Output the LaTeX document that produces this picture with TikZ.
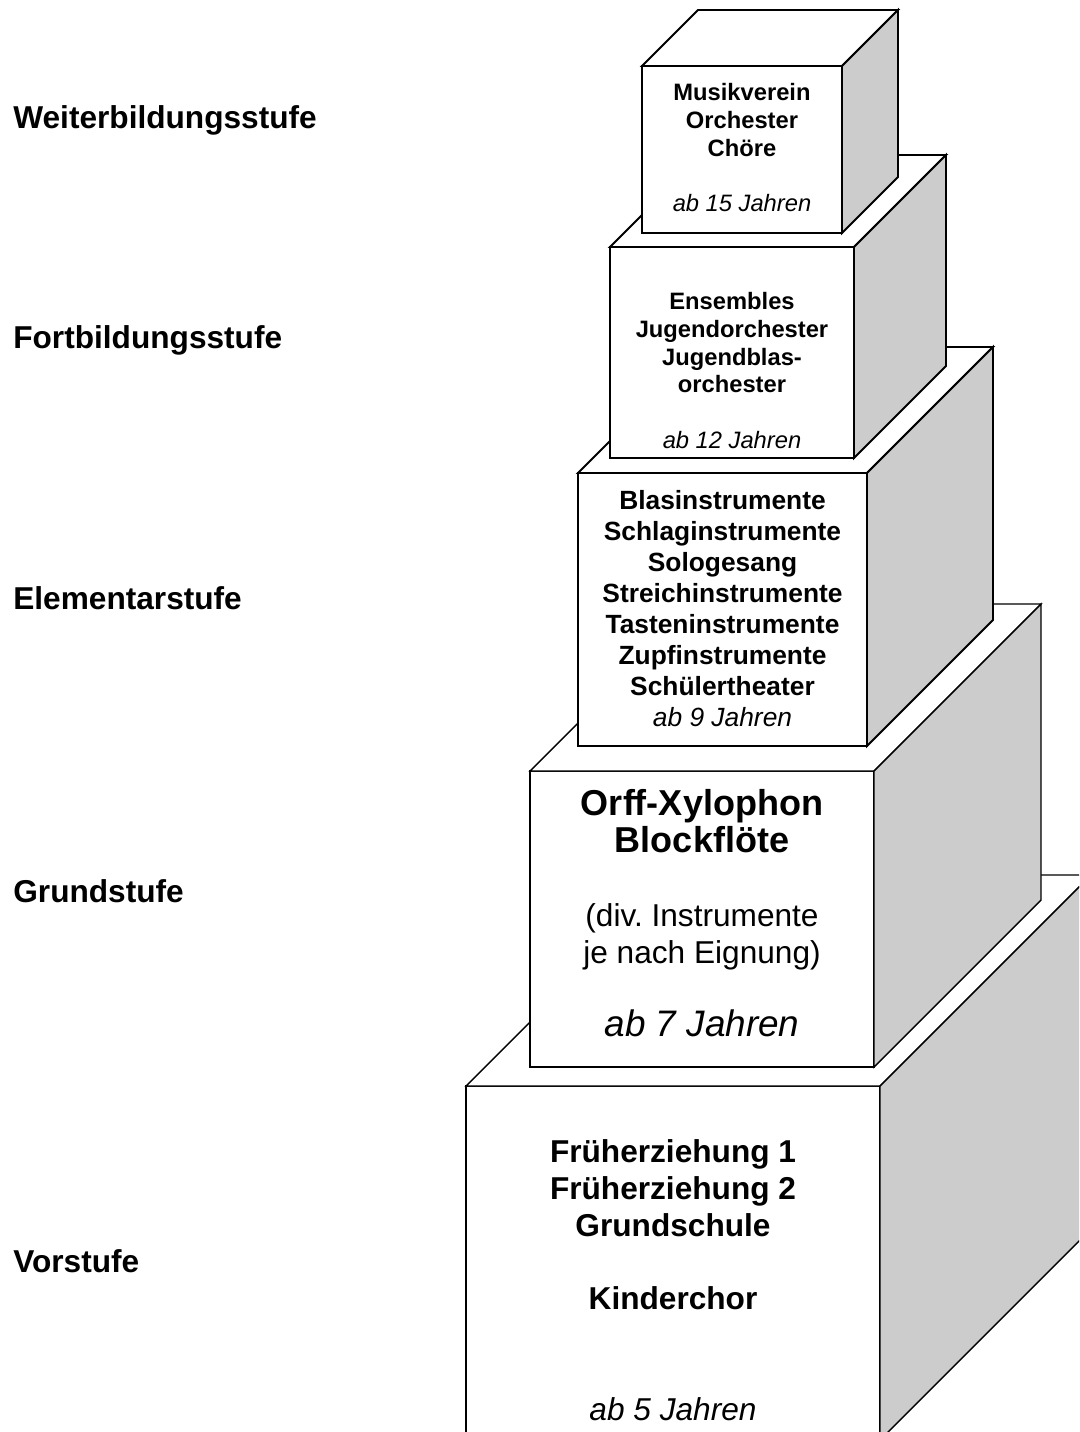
\documentclass[tikz,border=0pt]{standalone}
\usepackage{fontspec}
\setmainfont[Ligatures=NoCommon]{Liberation Sans}
\usetikzlibrary{calc}
\definecolor{seite}{gray}{0.8}
\frenchspacing
\tikzset{
  kante/.style={draw=black, line join=miter},
  stufe/.style={anchor=base west, inner sep=0pt, font=\fontsize{18}{21}\selectfont\bfseries},
  inhalt/.style={anchor=north, inner sep=0pt, align=center},
}
% Vorderseite links, oben, rechts, unten; Tiefe
\def\wuerfel[#1](#2,#3,#4,#5)(#6){%
  \draw[kante,#1,fill=white] (#2,#3) rectangle (#4,#5);
  \draw[kante,#1,fill=white] (#2,#3) -- ++(#6,-#6) -- ++({#4-#2},0) -- (#4,#3) -- cycle;
  \draw[kante,#1,fill=seite] (#4,#3) -- ++(#6,-#6) -- ++(0,{#5-#3}) -- (#4,#5) -- cycle;}

\begin{document}
\begin{tikzpicture}[x=0.02cm,y=-0.02cm]
  \useasboundingbox (0,0) rectangle (1079,1432);
  \clip (0,0) rectangle (1079,1432);

  % Wuerfel von unten nach oben
  \wuerfel[line width=0.8pt](466,1086,880,1440)(211)
  \wuerfel[line width=0.8pt](530,771,874,1067)(167)
  \wuerfel[line width=1.1pt](578,473,867,746)(126)
  \wuerfel[line width=1.1pt](610,247,854,458)(92)
  \wuerfel[line width=1.1pt](642,66,842,233)(56)

  % Stufen
  \node[stufe] (weiter) at (13,129) {Weiterbildungsstufe};
  \node[stufe] (fort) at (13,349) {Fortbildungsstufe};
  \node[stufe] (elementar) at (13,609) {Elementarstufe};
  \node[stufe] (grund) at (13,902) {Grundstufe};
  \node[stufe] (vor) at (13,1272) {Vorstufe};

  % Inhalte
  \node[inhalt, font=\fontsize{13.5}{15.8}\selectfont\bfseries] (musik) at (742,83)
    {Musikverein\\Orchester\\Chöre\\[15.8pt]{\mdseries\itshape ab 15 Jahren}};
  \node[inhalt, font=\fontsize{13.5}{15.8}\selectfont\bfseries] (ensemble) at (732,292)
    {Ensembles\\Jugendorchester\\Jugendblas-\\orchester\\[15.8pt]{\mdseries\itshape ab 12 Jahren}};
  \node[inhalt, font=\fontsize{15}{17.6}\selectfont\bfseries] (instrument) at (722.5,490.5)
    {Blasinstrumente\\Schlaginstrumente\\Sologesang\\Streichinstrumente\\Tasteninstrumente\\Zupfinstrumente\\Schülertheater\\{\mdseries\itshape ab 9 Jahren}};
  \node[inhalt, font=\fontsize{18}{21}\selectfont] (orff) at (702,789)
    {{\fontsize{20.5}{21}\selectfont\bfseries Orf\kern0pt{}f-Xylophon}\\{\fontsize{20.5}{21}\selectfont\bfseries Blockflöte}\\[21pt]
     (div. Instrumente\\je nach Eignung)\\[21pt]{\fontsize{21}{21}\selectfont\itshape ab 7 Jahren}};
  \node[inhalt, font=\fontsize{18}{21}\selectfont\bfseries] (frueh) at (673,1139)
    {Früherziehung 1\\Früherziehung 2\\Grundschule\\[21pt]Kinderchor\\[42pt]{\mdseries\itshape ab 5 Jahren}};
\end{tikzpicture}
\end{document}
